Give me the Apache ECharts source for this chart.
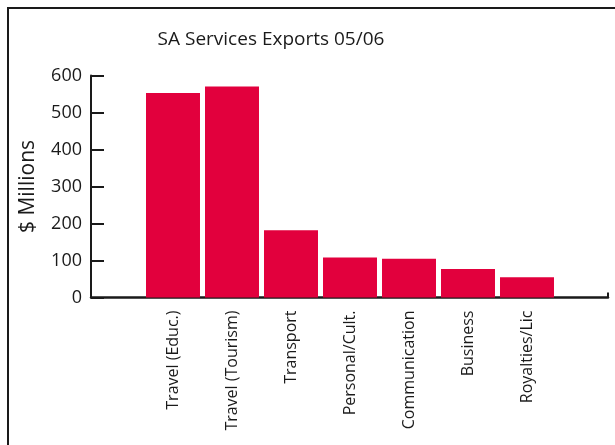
<!DOCTYPE html>
<html><head><meta charset="utf-8">
<script src="https://cdn.jsdelivr.net/npm/echarts@6/dist/echarts.min.js"></script>
<style>html,body{margin:0;padding:0;background:#fff}#c{width:615px;height:445px}</style>
</head><body><div id="c"></div>
<script>
const categories = ['Travel (Educ.)','Travel (Tourism)','Transport','Personal/Cult.','Communication','Business','Royalties/Lic'];
const values = [553, 570, 182, 108, 105, 77, 55];
const yTicks = [0, 100, 200, 300, 400, 500, 600];
const titleText = 'SA Services Exports 05/06';
const yName = '$ Millions';

const font = '"Open Sans", "Noto Sans", sans-serif';
const ink = '#1a1a1a';
const chart = echarts.init(document.getElementById('c'), null, {renderer: 'canvas'});
chart.setOption({
  animation: false,
  backgroundColor: '#fff',
  title: {
    text: titleText, left: 266, top: 25, textAlign: 'center',
    textStyle: {fontFamily: font, fontSize: 19, fontWeight: 'normal', color: ink}
  },
  graphic: [{
    type: 'polyline', shape: {points: [[8, 445], [8, 8], [615, 8]]},
    style: {stroke: ink, lineWidth: 2, fill: null}
  }],
  grid: [
    {left: 91, right: 7, top: 75.5, bottom: 147.5},
    {left: 143.5, width: 413, top: 75.5, bottom: 147.5}
  ],
  xAxis: [
    {gridIndex: 0, type: 'value', min: 0, max: 1, interval: 1,
     axisLine: {show: true, lineStyle: {color: ink, width: 2.5}},
     axisTick: {show: true, inside: true, length: 5, lineStyle: {color: ink, width: 2}},
     axisLabel: {show: false}, splitLine: {show: false}},
    {gridIndex: 1, type: 'category', data: categories,
     axisLine: {show: false}, axisTick: {show: false},
     axisLabel: {rotate: 90, margin: 13, fontFamily: font, fontSize: 16, color: ink, interval: 0}}
  ],
  yAxis: [
    {gridIndex: 0, type: 'value', min: yTicks[0], max: yTicks[yTicks.length - 1], interval: 100,
     name: yName, nameLocation: 'middle', nameGap: 52, nameRotate: 90,
     nameTextStyle: {fontFamily: font, fontSize: 21, color: ink},
     axisLine: {show: true, lineStyle: {color: ink, width: 2}},
     axisTick: {show: true, inside: true, length: 13, lineStyle: {color: ink, width: 2}},
     axisLabel: {margin: 9, fontFamily: font, fontSize: 18, color: ink},
     splitLine: {show: false}},
    {gridIndex: 1, type: 'value', min: 0, max: 600, show: false, splitLine: {show: false}}
  ],
  series: [{
    type: 'bar', xAxisIndex: 1, yAxisIndex: 1, data: values,
    barCategoryGap: '8.5%', itemStyle: {color: '#e2003d'}
  }]
});
</script></body></html>
